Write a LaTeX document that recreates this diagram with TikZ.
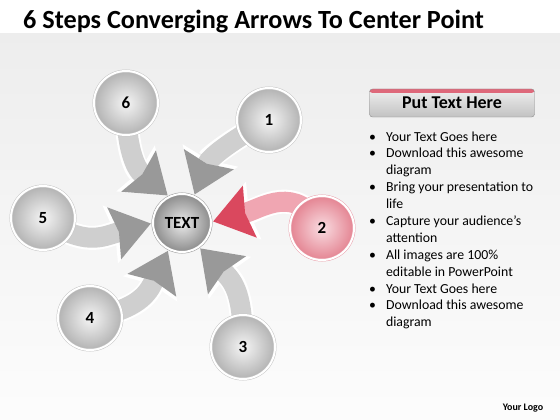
\documentclass[tikz,border=0pt]{standalone}
\usepackage{fontspec}
\setmainfont{Carlito}
\usetikzlibrary{arrows.meta}
\pgfdeclarelayer{backdrop}
\pgfdeclarelayer{arrowlayer}
\pgfsetlayers{backdrop,arrowlayer,main}

\definecolor{pinkedge}{RGB}{222,104,122}
\definecolor{pinkshaft}{RGB}{240,166,178}
\definecolor{pinkhead}{RGB}{218,72,94}
\definecolor{pinklight}{RGB}{249,220,225}
\definecolor{pinkdark}{RGB}{228,132,146}

\tikzset{
	stepball/.style={circle, minimum size=64pt, inner sep=0pt,
		inner color=black!4, outer color=black!30,
		draw=black!22, double=white, double distance=2pt, line width=0.5pt,
		font=\bfseries\fontsize{17}{20}\selectfont},
	conv/.style 2 args={line width=20pt, draw=#1, shorten >=2pt,
		-{Stealth[length=38pt, width=54pt, inset=5pt, line width=0pt 0, color=#2]},
		preaction={draw=white, line width=24pt,
			-{Stealth[length=42pt, width=60pt, inset=5pt, line width=0pt 0, color=white]}}},
	conv/.default={black!19}{black!40},
}

\begin{document}
\begin{tikzpicture}[x=1pt, y=1pt]
			\def\W{560};
			\def\H{420};

			\useasboundingbox (0,0) rectangle (\W,-\H);

			\begin{pgfonlayer}{backdrop}
				\fill[white] (0,0) rectangle (\W,-\H);
				\shade[top color=black!7, bottom color=black!1] (0,-34) rectangle (\W,-\H);
			\end{pgfonlayer}

			\node[anchor=base west, inner sep=0pt, font=\bfseries\fontsize{26.2}{30}\selectfont] (title) at (23,-29) {6 Steps Converging Arrows To Center Point};

			\begin{scope}
				\node[stepball, minimum size=58pt, inner color=black!8, outer color=black!45, draw=black!40] (ctr) at (182,-223) {TEXT};
				\node[stepball] (c1) at (269,-120) {1};
				\node[stepball, inner color=pinklight, outer color=pinkdark, draw=pinkedge!60] (c2) at (322,-228) {2};
				\node[stepball] (c3) at (243,-347) {3};
				\node[stepball] (c4) at (90,-318) {4};
				\node[stepball] (c5) at (43,-218) {5};
				\node[stepball] (c6) at (126,-103) {6};
			\end{scope}

			\begin{pgfonlayer}{arrowlayer}
				\draw[conv] (c1.center) to[out=208, in=68] (ctr.66);
				\draw[conv={pinkshaft}{pinkhead}] (c2.center) to[out=120, in=15, looseness=1.2] (ctr.2);
				\draw[conv] (c3.center) to[out=90, in=-45, looseness=1.2] (ctr.-55);
				\draw[conv] (c4.center) to[out=10, in=245, looseness=1.2] (ctr.243);
				\draw[conv] (c5.center) to[out=-35, in=195, looseness=1.2] (ctr.180);
				\draw[conv] (c6.center) to[out=270, in=140, looseness=1.1] (ctr.116);
			\end{pgfonlayer}

			\begin{scope}[font=\fontsize{13.8}{16.9}\selectfont]
				\node[rounded corners=3pt, minimum width=165pt, minimum height=28pt,
					top color=black!6, bottom color=black!24, draw=black!45,
					font=\bfseries\fontsize{18}{20}\selectfont,
					path picture={\fill[pinkedge] (path picture bounding box.north west) rectangle ([yshift=-4pt]path picture bounding box.north east);}]
					(hdr) at (452,-103) {Put Text Here};
				\node[anchor=base west, inner sep=0pt] (notes) at (369,-141) {%
					\begin{tabular}[t]{@{}l@{\hspace{10pt}}l@{}}
						\textbullet & Your Text Goes here\\
						\textbullet & Download this awesome\\
						& diagram\\
						\textbullet & Bring your presentation to\\
						& life\\
						\textbullet & Capture your audience’s\\
						& attention\\
						\textbullet & All images are 100\%\\
						& editable in PowerPoint\\
						\textbullet & Your Text Goes here\\
						\textbullet & Download this awesome\\
						& diagram
					\end{tabular}};
			\end{scope}

			\node[font=\bfseries\fontsize{10}{12}\selectfont] (logo) at (523,-408) {Your Logo};
		\end{tikzpicture}
\end{document}
